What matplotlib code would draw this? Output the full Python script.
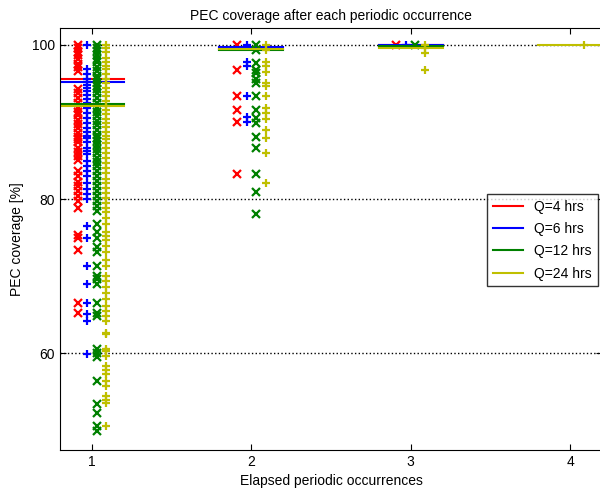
import matplotlib
matplotlib.use('Agg')
import matplotlib.pyplot as plt

plt.rcParams['font.family'] = ['Liberation Sans', 'DejaVu Sans']
plt.rcParams['font.size'] = 10

# PEC coverage values [%] per window size Q and elapsed occurrence
q4_occ1 = [100, 99.6, 99.1, 98.7, 98.2, 97.5, 97.1, 96.6, 94.2, 93.8, 93.1, 92.5,
           91.8, 91.3, 90.9, 90.3, 89.7, 89.2, 88.6, 88.1, 87.8, 87.4, 86.6, 86.1,
           85.6, 85.1, 83.6, 83.0, 82.2, 81.7, 81.0, 80.4, 79.7, 78.8, 75.3, 74.9,
           73.4, 66.6, 65.3]
q4_occ2 = [100, 96.7, 93.3, 91.6, 90.0, 83.2]
q4_occ3 = [100]

q6_occ1 = [100, 96.8, 96.2, 95.6, 95.2, 94.8, 94.4, 94.0, 93.5, 93.0, 92.5, 91.8,
           91.2, 90.5, 89.9, 89.2, 88.7, 88.2, 87.9, 87.4, 86.6, 86.2, 85.8, 84.9,
           84.3, 83.6, 83.0, 82.1, 81.3, 80.6, 80.0, 76.5, 74.9, 71.3, 69.0, 66.6,
           65.1, 64.2, 59.9]
q6_occ2 = [100, 97.7, 97.2, 93.3, 90.6, 90.0]
q6_occ3 = [100]

q12_occ1 = [100, 99.6, 99.2, 98.7, 98.1, 97.7, 97.1, 96.6, 96.0, 95.5, 95.1, 94.7,
            94.2, 93.8, 93.1, 92.5, 91.8, 91.3, 90.8, 90.1, 89.6, 89.0, 88.3, 87.9,
            87.5, 87.0, 86.5, 86.0, 85.3, 84.8, 84.3, 83.6, 83.0, 82.3, 81.7, 81.0,
            80.4, 79.7, 79.1, 78.4, 76.8, 75.8, 74.9, 73.8, 73.1, 71.3, 70.0, 69.6,
            69.0, 66.6, 65.3, 64.8, 60.6, 60.0, 59.6, 56.5, 53.4, 52.3, 50.6, 50.0]
q12_occ2 = [100, 99.3, 97.6, 96.7, 96.3, 95.5, 95.0, 93.3, 91.6, 90.5, 89.8, 88.0,
            86.6, 83.2, 80.9, 78.1]
q12_occ3 = [100]

q24_occ1 = [100, 99.6, 99.0, 98.3, 97.7, 97.3, 96.8, 96.2, 95.6, 95.1, 94.4, 93.9,
            93.4, 92.7, 92.1, 91.6, 91.0, 90.4, 89.9, 89.4, 88.7, 88.2, 87.8, 87.3,
            86.6, 86.0, 85.3, 84.7, 84.0, 83.4, 82.6, 82.1, 81.4, 80.8, 80.1, 79.5,
            78.8, 78.3, 77.5, 76.8, 75.8, 75.2, 74.7, 73.9, 73.1, 72.1, 71.3, 70.0,
            69.4, 68.6, 67.8, 67.0, 66.1, 65.5, 64.8, 64.2, 62.7, 62.5, 60.6, 60.3,
            59.7, 58.4, 57.8, 57.3, 56.5, 55.8, 54.5, 54.0, 53.6, 50.6]
q24_occ2 = [100, 99.3, 97.8, 97.3, 96.5, 95.0, 94.7, 93.3, 91.8, 91.1, 90.4, 89.0,
            87.9, 86.0, 82.1]
q24_occ3 = [100, 99.6, 98.9, 96.7]
q24_occ4 = [100]

# mean coverage per occurrence
q4_mean = [95.5, 99.5, 99.95]
q6_mean = [95.2, 99.7, 99.9]
q12_mean = [92.3, 99.3, 99.85]
q24_mean = [92.1, 99.4, 99.6, 100]

labels = ['Q=4 hrs', 'Q=6 hrs', 'Q=12 hrs', 'Q=24 hrs']
series = [
    ([q4_occ1, q4_occ2, q4_occ3], q4_mean, 'r', 'x', -0.09),
    ([q6_occ1, q6_occ2, q6_occ3], q6_mean, 'b', '+', -0.03),
    ([q12_occ1, q12_occ2, q12_occ3], q12_mean, 'g', 'x', 0.03),
    ([q24_occ1, q24_occ2, q24_occ3, q24_occ4], q24_mean, 'y', '+', 0.09),
]
colors = {'r': 'red', 'b': 'blue', 'g': (0, 0.5, 0), 'y': (0.75, 0.75, 0)}

fig = plt.figure(figsize=(6, 4.91), dpi=100)
ax = fig.add_axes([0.1, 0.0835, 0.9033, 0.8585])

handles = []
for (occs, means, c, m, off), lab in zip(series, labels):
    col = colors[c]
    for i, vals in enumerate(occs):
        ax.plot([i + 1 + off] * len(vals), vals, linestyle='none', marker=m,
                color=col, ms=6, mew=1.6)
    for i, mv in enumerate(means):
        h, = ax.plot([i + 0.8, i + 1.2], [mv, mv], color=col, lw=1.5)
    handles.append(h)

ax.set_xlim(0.8, 4.2)
ax.set_ylim(47.5, 102.1)
ax.set_xticks([1, 2, 3, 4])
ax.set_yticks([60, 80, 100])
ax.yaxis.grid(True, linestyle=':', color='black', lw=1)
ax.tick_params(direction='in', top=True, right=True, length=4)
ax.set_title('PEC coverage after each periodic occurrence', fontsize=10)
ax.set_xlabel('Elapsed periodic occurrences')
ax.set_ylabel('PEC coverage [%]', labelpad=6)

leg = ax.legend(handles, labels, loc='upper left', bbox_to_anchor=(0.812, 0.605),
                bbox_transform=fig.transFigure, borderaxespad=0, fancybox=False,
                handlelength=2.2, labelspacing=0.6)
leg.get_frame().set_edgecolor('black')

fig.savefig('out.png', dpi=100)
